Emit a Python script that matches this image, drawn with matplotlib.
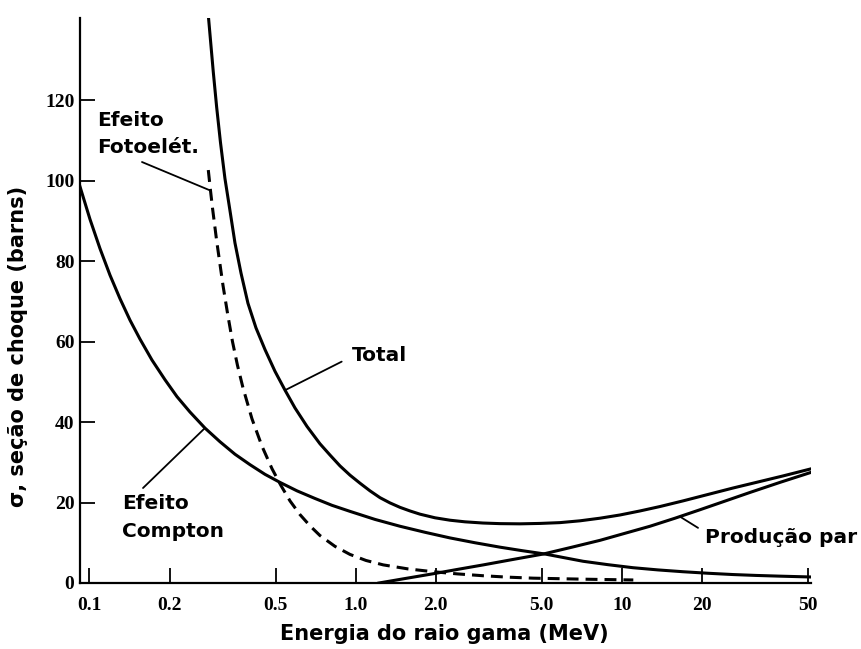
import numpy as np
import matplotlib
matplotlib.use("Agg")
import matplotlib.pyplot as plt

# curves (energy in MeV, cross section in barns)
compton_E = [0.0922, 0.1005, 0.1096, 0.1195, 0.1302, 0.1421, 0.1549, 0.1718, 0.1923, 0.2133,
             0.2385, 0.2716, 0.3093, 0.3521, 0.401, 0.4565, 0.5196, 0.6019, 0.7035, 0.8148,
             0.9519, 1.1816, 1.4667, 1.8204, 2.2604, 2.8054, 3.4834, 4.2119, 5.139, 6.056,
             7.138, 8.863, 10.997, 13.652, 16.95, 21.038, 26.119, 31.86, 39.2, 50.816]
compton_s = [98.5, 90.4, 83.1, 76.5, 70.7, 65.3, 60.6, 55.4, 50.5, 46.3,
             42.5, 38.5, 35.1, 32.0, 29.4, 27.0, 25.0, 22.9, 21.0, 19.3,
             17.8, 15.8, 14.1, 12.6, 11.2, 10.0, 8.9, 8.04, 7.2, 6.3,
             5.4, 4.55, 3.8, 3.25, 2.8, 2.42, 2.1, 1.88, 1.7, 1.5]

total_E = [0.2796, 0.2919, 0.3006, 0.3106, 0.3229, 0.3373, 0.3521, 0.371, 0.394, 0.4222,
           0.4565, 0.4977, 0.5429, 0.5916, 0.6565, 0.7341, 0.8007, 0.873, 0.9519, 1.0378,
           1.1316, 1.2341, 1.3453, 1.4667, 1.5993, 1.744, 1.9861, 2.2604, 2.5724, 3.0061,
           3.4834, 4.14, 4.9204, 5.8496, 6.955, 8.268, 9.829, 11.684, 13.89, 16.95,
           21.038, 26.119, 32.416, 40.23, 50.816]
total_s = [141.1, 127.0, 118.2, 109.5, 100.5, 92.5, 84.5, 77.0, 69.5, 63.4,
           58.0, 52.6, 47.9, 43.5, 38.9, 34.6, 31.8, 29.1, 26.8, 24.8,
           22.9, 21.2, 19.9, 18.8, 17.9, 17.1, 16.2, 15.6, 15.2, 14.9,
           14.75, 14.7, 14.8, 15.0, 15.45, 16.1, 16.9, 17.9, 19.0, 20.4,
           22.0, 23.6, 25.1, 26.6, 28.3]

photo_E = [0.2796, 0.285, 0.2899, 0.3006, 0.3174, 0.3302, 0.3446, 0.3598, 0.3774, 0.4079,
           0.4447, 0.485, 0.5243, 0.5667, 0.6177, 0.6737, 0.7341, 0.8363, 0.952, 1.093,
           1.269, 1.572, 1.956, 2.422, 3.015, 3.731, 4.645, 7.138, 11.03]
photo_s = [102.6, 97.5, 93.2, 85.0, 74.0, 67.0, 60.0, 54.1, 48.5, 40.8,
           34.0, 28.4, 24.2, 20.4, 17.0, 14.2, 11.8, 9.1, 7.1, 5.6,
           4.5, 3.5, 2.8, 2.25, 1.8, 1.45, 1.2, 0.95, 0.75]

pair_E = [1.223, 1.545, 1.956, 2.422, 3.015, 3.897, 5.064, 6.49, 8.27, 10.26,
          12.74, 15.82, 19.63, 24.37, 30.25, 39.2, 50.8]
pair_s = [0.0, 1.15, 2.3, 3.4, 4.5, 5.85, 7.2, 8.9, 10.6, 12.35,
          14.1, 16.1, 18.2, 20.35, 22.5, 25.0, 27.4]

x_ticks = [0.1, 0.2, 0.5, 1.0, 2.0, 5.0, 10, 20, 50]
x_tick_labels = ["0.1", "0.2", "0.5", "1.0", "2.0", "5.0", "10", "20", "50"]
y_ticks = [0, 20, 40, 60, 80, 100, 120]

fig = plt.figure(figsize=(8.61, 6.49), dpi=100)
ax = fig.add_axes([0.0929, 0.1017, 0.849, 0.8713])

lw = 2.2
ax.plot(compton_E, compton_s, color="black", lw=lw, solid_joinstyle="round")
ax.plot(total_E, total_s, color="black", lw=lw, solid_joinstyle="round")
ax.plot(pair_E, pair_s, color="black", lw=lw, solid_joinstyle="round")
ax.plot(photo_E, photo_s, color="black", lw=lw, dashes=(3.9, 2.3))

ax.set_xscale("log")
ax.set_xlim(0.0922, 51.25)
ax.set_ylim(0, 140.5)

ax.set_xticks(x_ticks)
ax.set_xticklabels(x_tick_labels)
ax.xaxis.set_minor_locator(matplotlib.ticker.NullLocator())
ax.set_yticks(y_ticks)

for s in ["top", "right"]:
    ax.spines[s].set_visible(False)
for s in ["left", "bottom"]:
    ax.spines[s].set_linewidth(1.6)

ax.tick_params(axis="both", direction="in", length=11, width=1.3, colors="black")
ax.tick_params(axis="x", pad=10)
ax.tick_params(axis="y", pad=4)
for lab in ax.get_xticklabels() + ax.get_yticklabels():
    lab.set_fontfamily("Liberation Serif")
    lab.set_fontweight("bold")
    lab.set_fontsize(14)

txt = dict(fontsize=14.5, fontweight="bold", family="DejaVu Sans", color="black")
ax.set_xlabel("Energia do raio gama (MeV)", fontsize=15, fontweight="bold")
ax.set_ylabel("σ, seção de choque (barns)", fontsize=15, fontweight="bold")
ax.xaxis.set_label_coords(0.498, -0.072)
ax.yaxis.set_label_coords(-0.071, 0.419)

# labels with leader lines
line_kw = dict(arrowstyle="-", color="black", lw=1.3, shrinkA=0, shrinkB=0)
ax.annotate("", xy=(photo_E[1], photo_s[1]), xytext=(0.1576, 104.6), arrowprops=line_kw)
ax.text(0.1068, 111.6, "Efeito\nFotoelét.", ha="left", va="center", linespacing=1.5, **txt)

ax.annotate("", xy=(total_E[12], total_s[12]), xytext=(0.886, 55.0), arrowprops=line_kw)
ax.text(0.966, 56.6, "Total", ha="left", va="center", **txt)

ax.annotate("", xy=(compton_E[11], compton_s[11]), xytext=(0.159, 23.6), arrowprops=line_kw)
ax.text(0.1322, 16.3, "Efeito\nCompton", ha="left", va="center", linespacing=1.55, **txt)

ax.annotate("", xy=(16.5, 16.5), xytext=(19.3, 13.7), arrowprops=line_kw)
ax.text(20.5, 11.2, "Produção par", ha="left", va="center", clip_on=False, **txt)

fig.savefig("out.png", dpi=100)
